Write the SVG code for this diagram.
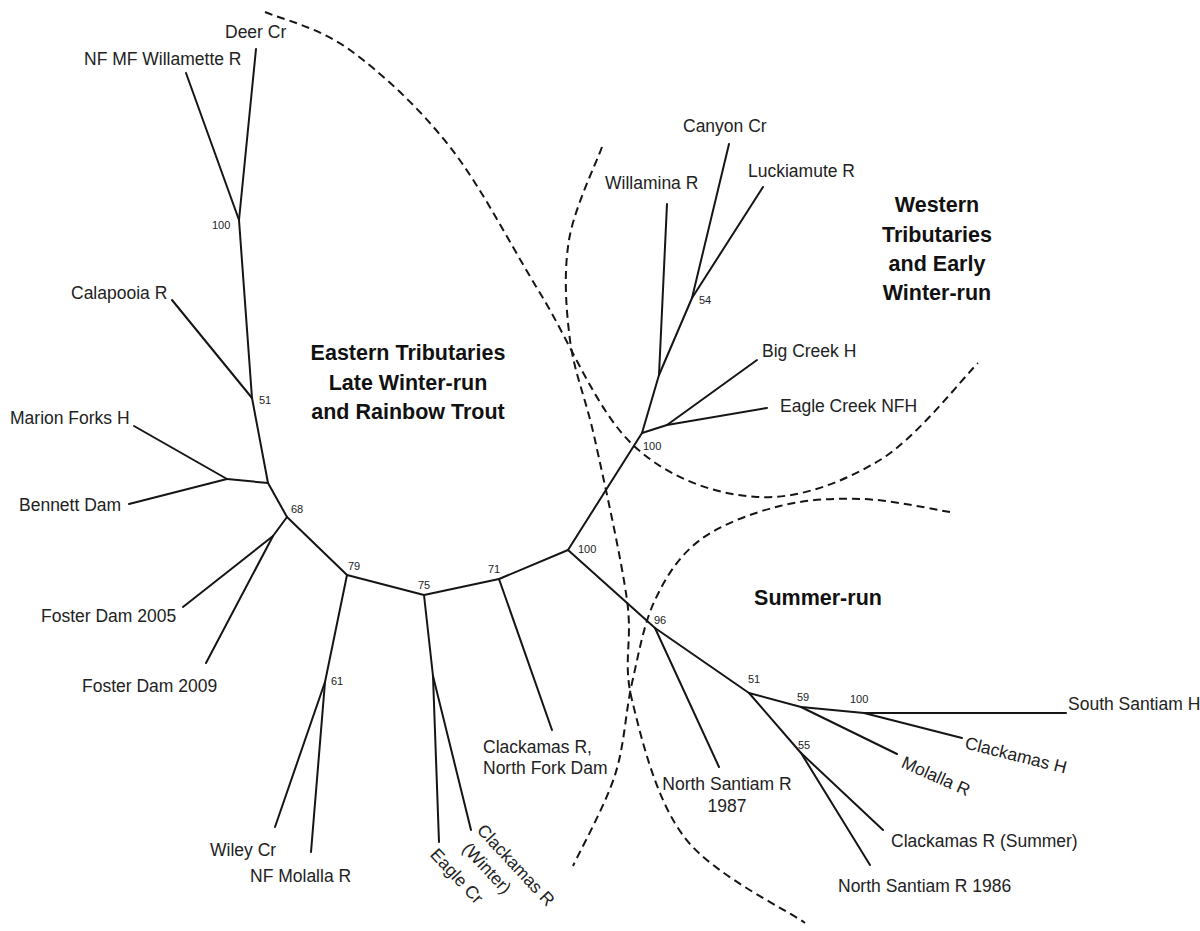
<svg xmlns="http://www.w3.org/2000/svg" width="1200" height="931" viewBox="0 0 1200 931">
<style>
.br{stroke:#151515;stroke-width:2;fill:none;stroke-linecap:round}
.dash{stroke:#151515;stroke-width:2;fill:none;stroke-dasharray:8 5}
.lbl{font-family:"Liberation Sans",Arial,sans-serif;font-size:17.5px;fill:#222}
.bs{font-family:"Liberation Sans",Arial,sans-serif;font-size:11px;fill:#222}
.ttl{font-family:"Liberation Sans",Arial,sans-serif;font-size:21.5px;font-weight:bold;fill:#111;text-anchor:middle}
.rot{text-anchor:middle}
</style>
<rect width="1200" height="931" fill="#fff"/>

<g id="clade-outlines">
<path class="dash" d="M265,12 C279.2,18.3 319.2,27.5 350,50 C380.8,72.5 418.3,106.5 450,147 C481.7,187.5 509.5,243.3 540,293 C570.5,342.7 596.8,411 633,445 C669.2,479 715.8,494.5 757,497 C798.2,499.5 843.2,482.3 880,460 C916.8,437.7 961.7,379.2 978,363"/>
<path class="dash" d="M602,147 C596.5,162.5 574.3,207.8 569,240 C563.7,272.2 565.7,306.7 570,340 C574.3,373.3 585.5,396.7 595,440 C604.5,483.3 621,556.7 627,600 C633,643.3 622.3,660.3 632,700 C641.7,739.7 656.2,800.8 685,838 C713.8,875.2 785,908.8 805,923"/>
<path class="dash" d="M950,512 C935.5,509.8 891.3,500 863,499 C834.7,498 807.2,499.2 780,506 C752.8,512.8 720.8,524.3 700,540 C679.2,555.7 666.3,576.2 655,600 C643.7,623.8 638.7,653.8 632,683 C625.3,712.2 624.8,744.5 615,775 C605.2,805.5 580,850.8 573,866"/>
</g>

<g id="connectors">
<!-- eastern -->
<line class="br" x1="239" y1="220" x2="256" y2="49"/>
<line class="br" x1="239" y1="220" x2="186" y2="73"/>
<line class="br" x1="239" y1="220" x2="252" y2="398"/>
<line class="br" x1="252" y1="398" x2="172" y2="300"/>
<line class="br" x1="252" y1="398" x2="268" y2="483"/>
<line class="br" x1="268" y1="483" x2="227" y2="479"/>
<line class="br" x1="227" y1="479" x2="134" y2="426"/>
<line class="br" x1="227" y1="479" x2="129" y2="504"/>
<line class="br" x1="268" y1="483" x2="287" y2="517"/>
<line class="br" x1="287" y1="517" x2="273" y2="536"/>
<line class="br" x1="273" y1="536" x2="183" y2="607"/>
<line class="br" x1="273" y1="536" x2="206" y2="663"/>
<line class="br" x1="287" y1="517" x2="347" y2="575"/>
<line class="br" x1="347" y1="575" x2="325" y2="682"/>
<line class="br" x1="325" y1="682" x2="275" y2="827"/>
<line class="br" x1="325" y1="682" x2="311" y2="852"/>
<line class="br" x1="347" y1="575" x2="424" y2="595"/>
<line class="br" x1="424" y1="595" x2="433" y2="676"/>
<line class="br" x1="433" y1="676" x2="439" y2="842"/>
<line class="br" x1="433" y1="676" x2="471" y2="830"/>
<line class="br" x1="424" y1="595" x2="499" y2="579"/>
<line class="br" x1="499" y1="579" x2="552" y2="730"/>
<line class="br" x1="499" y1="579" x2="568" y2="550"/>
<!-- western -->
<line class="br" x1="568" y1="550" x2="642" y2="433"/>
<line class="br" x1="642" y1="433" x2="659" y2="375"/>
<line class="br" x1="659" y1="375" x2="667" y2="204"/>
<line class="br" x1="659" y1="375" x2="692" y2="298"/>
<line class="br" x1="692" y1="298" x2="729" y2="144"/>
<line class="br" x1="692" y1="298" x2="763" y2="187"/>
<line class="br" x1="642" y1="433" x2="667" y2="425"/>
<line class="br" x1="667" y1="425" x2="757" y2="360"/>
<line class="br" x1="667" y1="425" x2="767" y2="408"/>
<!-- summer -->
<line class="br" x1="568" y1="550" x2="655" y2="628"/>
<line class="br" x1="655" y1="628" x2="719" y2="767"/>
<line class="br" x1="655" y1="628" x2="749" y2="693"/>
<line class="br" x1="749" y1="693" x2="801" y2="707"/>
<line class="br" x1="801" y1="707" x2="864" y2="713"/>
<line class="br" x1="864" y1="713" x2="1066" y2="713"/>
<line class="br" x1="864" y1="713" x2="962" y2="738"/>
<line class="br" x1="801" y1="707" x2="897" y2="754"/>
<line class="br" x1="749" y1="693" x2="801" y2="753"/>
<line class="br" x1="801" y1="753" x2="883" y2="830"/>
<line class="br" x1="801" y1="753" x2="870" y2="865"/>
</g>

<g id="clade-eastern"><text class="ttl"><tspan x="408" y="360">Eastern Tributaries</tspan><tspan x="408" y="390">Late Winter-run</tspan><tspan x="408" y="419">and Rainbow Trout</tspan></text></g>
<g id="clade-western"><text class="ttl"><tspan x="937" y="212">Western</tspan><tspan x="937" y="242">Tributaries</tspan><tspan x="937" y="271">and Early</tspan><tspan x="937" y="300">Winter-run</tspan></text></g>
<g id="clade-summer"><text class="ttl" x="818" y="605">Summer-run</text></g>

<g id="tip-deer-cr"><text class="lbl" x="225" y="38">Deer Cr</text></g>
<g id="tip-nf-mf-willamette"><text class="lbl" x="84" y="65">NF MF Willamette R</text></g>
<g id="tip-calapooia"><text class="lbl" x="71" y="299">Calapooia R</text></g>
<g id="tip-marion-forks"><text class="lbl" x="10" y="424">Marion Forks H</text></g>
<g id="tip-bennett-dam"><text class="lbl" x="19" y="511">Bennett Dam</text></g>
<g id="tip-foster-2005"><text class="lbl" x="41" y="622">Foster Dam 2005</text></g>
<g id="tip-foster-2009"><text class="lbl" x="82" y="692">Foster Dam 2009</text></g>
<g id="tip-wiley-cr"><text class="lbl" x="210" y="856">Wiley Cr</text></g>
<g id="tip-nf-molalla"><text class="lbl" x="250" y="882">NF Molalla R</text></g>
<g id="tip-eagle-cr"><text class="lbl rot" transform="translate(457 876) rotate(47)" dy="0.35em">Eagle Cr</text></g>
<g id="tip-clackamas-winter"><text class="lbl rot" transform="translate(516 865) rotate(47)" dy="0.35em">Clackamas R</text><text class="lbl rot" transform="translate(487 868) rotate(47)" dy="0.35em">(Winter)</text></g>
<g id="tip-clackamas-nfdam"><text class="lbl"><tspan x="483" y="753">Clackamas R,</tspan><tspan x="483" y="774">North Fork Dam</tspan></text></g>
<g id="tip-willamina"><text class="lbl" x="605" y="189">Willamina R</text></g>
<g id="tip-canyon-cr"><text class="lbl" x="683" y="132">Canyon Cr</text></g>
<g id="tip-luckiamute"><text class="lbl" x="748" y="177">Luckiamute R</text></g>
<g id="tip-big-creek"><text class="lbl" x="762" y="357">Big Creek H</text></g>
<g id="tip-eagle-creek-nfh"><text class="lbl" x="780" y="412">Eagle Creek NFH</text></g>
<g id="tip-ns-1987"><text class="lbl" text-anchor="middle"><tspan x="727" y="790">North Santiam R</tspan><tspan x="727" y="812">1987</tspan></text></g>
<g id="tip-south-santiam"><text class="lbl" x="1068" y="710">South Santiam H</text></g>
<g id="tip-clackamas-h"><text class="lbl rot" transform="translate(1016 755) rotate(14)" dy="0.35em">Clackamas H</text></g>
<g id="tip-molalla"><text class="lbl rot" transform="translate(936 776) rotate(24)" dy="0.35em">Molalla R</text></g>
<g id="tip-clackamas-summer"><text class="lbl" x="891" y="847">Clackamas R (Summer)</text></g>
<g id="tip-ns-1986"><text class="lbl" x="838" y="892">North Santiam R 1986</text></g>

<g id="bs-100-a"><text class="bs" x="212" y="229">100</text></g>
<g id="bs-51-a"><text class="bs" x="259" y="404">51</text></g>
<g id="bs-68"><text class="bs" x="291" y="513">68</text></g>
<g id="bs-79"><text class="bs" x="348" y="570">79</text></g>
<g id="bs-61"><text class="bs" x="331" y="685">61</text></g>
<g id="bs-75"><text class="bs" x="418" y="589">75</text></g>
<g id="bs-71"><text class="bs" x="488" y="573">71</text></g>
<g id="bs-100-b"><text class="bs" x="578" y="553">100</text></g>
<g id="bs-100-c"><text class="bs" x="643" y="450">100</text></g>
<g id="bs-54"><text class="bs" x="699" y="304">54</text></g>
<g id="bs-96"><text class="bs" x="654" y="624">96</text></g>
<g id="bs-51-b"><text class="bs" x="748" y="683">51</text></g>
<g id="bs-59"><text class="bs" x="797" y="701">59</text></g>
<g id="bs-100-d"><text class="bs" x="850" y="703">100</text></g>
<g id="bs-55"><text class="bs" x="798" y="749">55</text></g>
</svg>
